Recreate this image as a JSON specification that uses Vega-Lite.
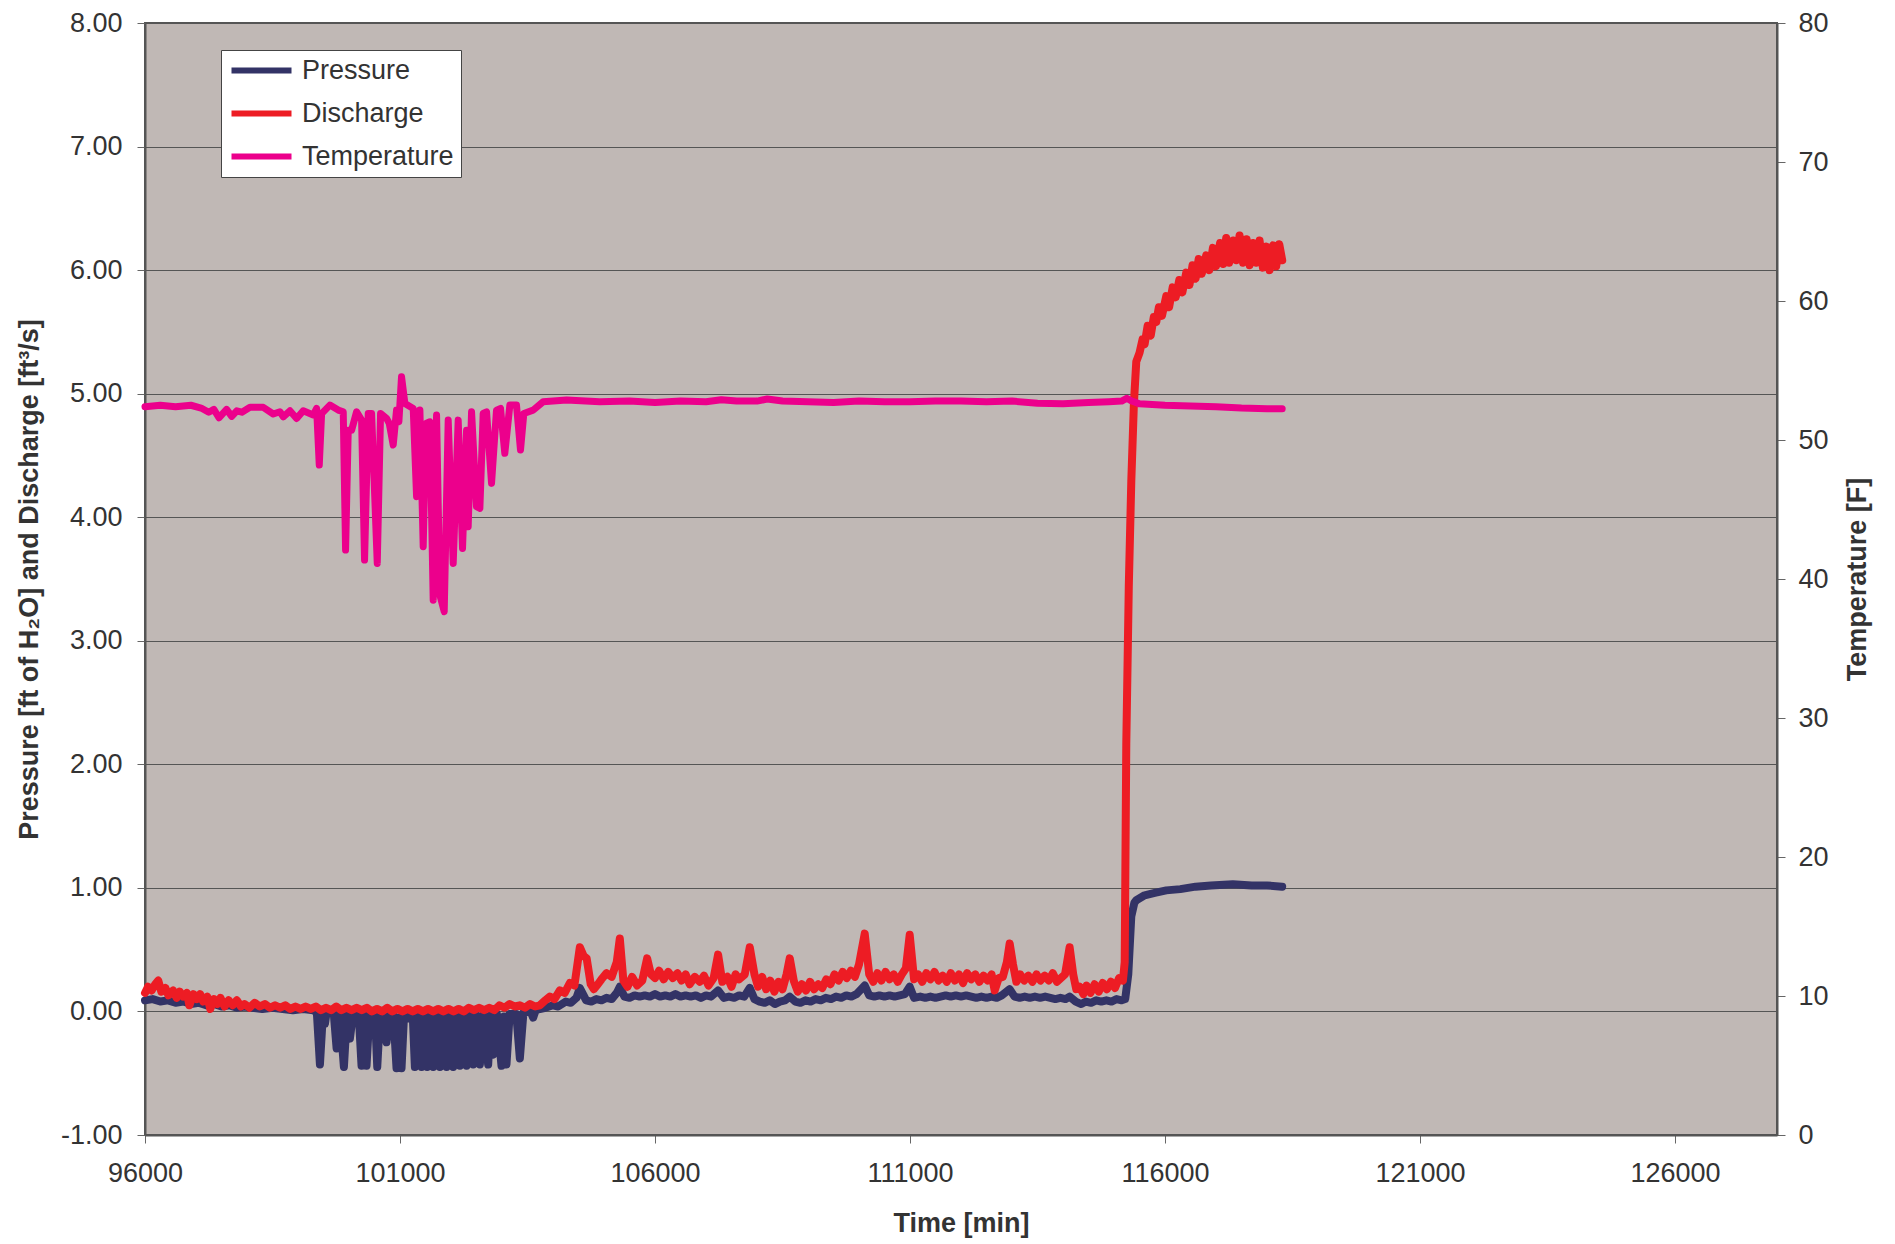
{
  "$schema": "https://vega.github.io/schema/vega-lite/v6.json",
  "width": 1632,
  "height": 1112,
  "autosize": "none",
  "padding": {"left": 145, "top": 23, "right": 118, "bottom": 109},
  "background": "white",
  "config": {
    "font": "Liberation Sans",
    "view": {"fill": "#C0B8B5", "stroke": "#555555", "strokeWidth": 2},
    "axis": {
      "labelFontSize": 27,
      "labelColor": "#333333",
      "titleFontSize": 27,
      "titleFontWeight": "bold",
      "titleColor": "#333333",
      "tickColor": "#666666",
      "tickSize": 8,
      "domainColor": "#555555",
      "domainWidth": 2,
      "labelFlush": false
    },
    "legend": {
      "orient": "none",
      "legendX": 76,
      "legendY": 27,
      "fillColor": "white",
      "strokeColor": "#444444",
      "padding": 7,
      "symbolType": "M-1,0H5",
      "symbolSize": 400,
      "symbolStrokeWidth": 6,
      "labelFontSize": 27,
      "labelColor": "#333333",
      "labelOffset": 47,
      "rowPadding": 15
    }
  },
  "datasets": {
    "pressure": [
      {"t": 96000, "v": 0.09}, {"t": 96150, "v": 0.10}, {"t": 96300, "v": 0.08}, {"t": 96450, "v": 0.09},
      {"t": 96600, "v": 0.07}, {"t": 96750, "v": 0.08}, {"t": 96900, "v": 0.06}, {"t": 97050, "v": 0.07},
      {"t": 97200, "v": 0.05}, {"t": 97350, "v": 0.06}, {"t": 97500, "v": 0.04}, {"t": 97650, "v": 0.05},
      {"t": 97800, "v": 0.03}, {"t": 97950, "v": 0.04}, {"t": 98100, "v": 0.03}, {"t": 98300, "v": 0.02},
      {"t": 98500, "v": 0.03}, {"t": 98700, "v": 0.02}, {"t": 98900, "v": 0.01}, {"t": 99100, "v": 0.02},
      {"t": 99300, "v": 0.01}, {"t": 99370, "v": -0.01}, {"t": 99430, "v": -0.43}, {"t": 99490, "v": -0.01},
      {"t": 99528, "v": -0.10}, {"t": 99560, "v": -0.01}, {"t": 99700, "v": -0.01}, {"t": 99757, "v": -0.30},
      {"t": 99820, "v": -0.02}, {"t": 99900, "v": -0.45}, {"t": 99960, "v": -0.02}, {"t": 100018, "v": -0.22},
      {"t": 100080, "v": -0.01}, {"t": 100190, "v": -0.02}, {"t": 100246, "v": -0.44}, {"t": 100295, "v": -0.03},
      {"t": 100344, "v": -0.44}, {"t": 100400, "v": -0.02}, {"t": 100475, "v": -0.16}, {"t": 100510, "v": -0.02},
      {"t": 100554, "v": -0.45}, {"t": 100610, "v": -0.02}, {"t": 100680, "v": -0.02}, {"t": 100736, "v": -0.25},
      {"t": 100800, "v": -0.02}, {"t": 100870, "v": -0.02}, {"t": 100932, "v": -0.46}, {"t": 100980, "v": -0.05},
      {"t": 101030, "v": -0.46}, {"t": 101080, "v": -0.02}, {"t": 101128, "v": -0.06}, {"t": 101200, "v": -0.02},
      {"t": 101250, "v": -0.03}, {"t": 101292, "v": -0.45}, {"t": 101350, "v": -0.03}, {"t": 101422, "v": -0.45},
      {"t": 101480, "v": -0.02}, {"t": 101533, "v": -0.45}, {"t": 101590, "v": -0.03}, {"t": 101651, "v": -0.45},
      {"t": 101715, "v": -0.02}, {"t": 101782, "v": -0.45}, {"t": 101850, "v": -0.02}, {"t": 101913, "v": -0.45},
      {"t": 101980, "v": -0.03}, {"t": 102043, "v": -0.45}, {"t": 102110, "v": -0.02}, {"t": 102174, "v": -0.44},
      {"t": 102240, "v": -0.03}, {"t": 102305, "v": -0.44}, {"t": 102370, "v": -0.02}, {"t": 102435, "v": -0.43},
      {"t": 102500, "v": -0.03}, {"t": 102566, "v": -0.43}, {"t": 102640, "v": -0.02}, {"t": 102729, "v": -0.43},
      {"t": 102780, "v": -0.03}, {"t": 102827, "v": -0.35}, {"t": 102900, "v": -0.02}, {"t": 102990, "v": -0.44},
      {"t": 103040, "v": -0.04}, {"t": 103088, "v": -0.43}, {"t": 103150, "v": -0.02}, {"t": 103280, "v": -0.02},
      {"t": 103350, "v": -0.38}, {"t": 103420, "v": -0.01}, {"t": 103560, "v": 0.00}, {"t": 103611, "v": -0.05},
      {"t": 103660, "v": 0.01}, {"t": 103742, "v": 0.02}, {"t": 103850, "v": 0.03}, {"t": 104000, "v": 0.05},
      {"t": 104100, "v": 0.04}, {"t": 104250, "v": 0.08}, {"t": 104350, "v": 0.07}, {"t": 104460, "v": 0.11},
      {"t": 104526, "v": 0.19}, {"t": 104600, "v": 0.13}, {"t": 104650, "v": 0.09}, {"t": 104750, "v": 0.08},
      {"t": 104850, "v": 0.10}, {"t": 104950, "v": 0.09}, {"t": 105050, "v": 0.11}, {"t": 105150, "v": 0.10},
      {"t": 105250, "v": 0.15}, {"t": 105310, "v": 0.20}, {"t": 105400, "v": 0.12}, {"t": 105500, "v": 0.11},
      {"t": 105600, "v": 0.13}, {"t": 105700, "v": 0.12}, {"t": 105800, "v": 0.13}, {"t": 105900, "v": 0.12},
      {"t": 106000, "v": 0.14}, {"t": 106100, "v": 0.12}, {"t": 106200, "v": 0.13}, {"t": 106300, "v": 0.12},
      {"t": 106400, "v": 0.14}, {"t": 106500, "v": 0.12}, {"t": 106600, "v": 0.13}, {"t": 106700, "v": 0.12},
      {"t": 106800, "v": 0.13}, {"t": 106900, "v": 0.11}, {"t": 107000, "v": 0.13}, {"t": 107100, "v": 0.12},
      {"t": 107237, "v": 0.17}, {"t": 107350, "v": 0.11}, {"t": 107450, "v": 0.12}, {"t": 107550, "v": 0.11},
      {"t": 107650, "v": 0.13}, {"t": 107750, "v": 0.12}, {"t": 107858, "v": 0.19}, {"t": 107950, "v": 0.10},
      {"t": 108050, "v": 0.08}, {"t": 108150, "v": 0.07}, {"t": 108250, "v": 0.09}, {"t": 108350, "v": 0.06},
      {"t": 108450, "v": 0.08}, {"t": 108550, "v": 0.09}, {"t": 108642, "v": 0.12}, {"t": 108750, "v": 0.08},
      {"t": 108850, "v": 0.07}, {"t": 108950, "v": 0.09}, {"t": 109050, "v": 0.08}, {"t": 109150, "v": 0.10},
      {"t": 109250, "v": 0.09}, {"t": 109350, "v": 0.11}, {"t": 109450, "v": 0.10}, {"t": 109550, "v": 0.12},
      {"t": 109650, "v": 0.11}, {"t": 109750, "v": 0.13}, {"t": 109850, "v": 0.12}, {"t": 109950, "v": 0.14},
      {"t": 110112, "v": 0.21}, {"t": 110200, "v": 0.13}, {"t": 110300, "v": 0.12}, {"t": 110400, "v": 0.13},
      {"t": 110500, "v": 0.12}, {"t": 110600, "v": 0.13}, {"t": 110700, "v": 0.12}, {"t": 110800, "v": 0.13},
      {"t": 110900, "v": 0.14}, {"t": 110994, "v": 0.20}, {"t": 111080, "v": 0.11}, {"t": 111200, "v": 0.12},
      {"t": 111300, "v": 0.11}, {"t": 111400, "v": 0.12}, {"t": 111500, "v": 0.11}, {"t": 111600, "v": 0.12},
      {"t": 111700, "v": 0.13}, {"t": 111800, "v": 0.12}, {"t": 111900, "v": 0.13}, {"t": 112000, "v": 0.12},
      {"t": 112100, "v": 0.13}, {"t": 112200, "v": 0.12}, {"t": 112300, "v": 0.11}, {"t": 112400, "v": 0.12},
      {"t": 112500, "v": 0.11}, {"t": 112600, "v": 0.12}, {"t": 112700, "v": 0.11}, {"t": 112800, "v": 0.13},
      {"t": 112954, "v": 0.18}, {"t": 113050, "v": 0.12}, {"t": 113150, "v": 0.11}, {"t": 113250, "v": 0.12},
      {"t": 113350, "v": 0.11}, {"t": 113450, "v": 0.12}, {"t": 113550, "v": 0.11}, {"t": 113650, "v": 0.12},
      {"t": 113750, "v": 0.11}, {"t": 113850, "v": 0.10}, {"t": 113950, "v": 0.11}, {"t": 114050, "v": 0.10},
      {"t": 114130, "v": 0.12}, {"t": 114250, "v": 0.08}, {"t": 114358, "v": 0.06}, {"t": 114450, "v": 0.08},
      {"t": 114550, "v": 0.07}, {"t": 114650, "v": 0.09}, {"t": 114750, "v": 0.08}, {"t": 114850, "v": 0.09},
      {"t": 114950, "v": 0.08}, {"t": 115050, "v": 0.10}, {"t": 115150, "v": 0.09}, {"t": 115220, "v": 0.10},
      {"t": 115280, "v": 0.30}, {"t": 115339, "v": 0.77}, {"t": 115400, "v": 0.88}, {"t": 115437, "v": 0.90},
      {"t": 115600, "v": 0.94}, {"t": 115800, "v": 0.96}, {"t": 116025, "v": 0.98}, {"t": 116300, "v": 0.99},
      {"t": 116600, "v": 1.01}, {"t": 116900, "v": 1.02}, {"t": 117331, "v": 1.03}, {"t": 117700, "v": 1.02},
      {"t": 118000, "v": 1.02}, {"t": 118298, "v": 1.01}
    ],
    "discharge": [
      {"t": 96000, "v": 0.15}, {"t": 96060, "v": 0.20}, {"t": 96130, "v": 0.17}, {"t": 96200, "v": 0.22},
      {"t": 96260, "v": 0.25}, {"t": 96320, "v": 0.16}, {"t": 96400, "v": 0.19}, {"t": 96460, "v": 0.13},
      {"t": 96550, "v": 0.17}, {"t": 96620, "v": 0.11}, {"t": 96680, "v": 0.16}, {"t": 96750, "v": 0.12},
      {"t": 96820, "v": 0.15}, {"t": 96870, "v": 0.05}, {"t": 96950, "v": 0.14}, {"t": 97020, "v": 0.10},
      {"t": 97080, "v": 0.14}, {"t": 97140, "v": 0.08}, {"t": 97220, "v": 0.12}, {"t": 97280, "v": 0.02},
      {"t": 97350, "v": 0.10}, {"t": 97420, "v": 0.06}, {"t": 97480, "v": 0.11}, {"t": 97560, "v": 0.04},
      {"t": 97640, "v": 0.09}, {"t": 97720, "v": 0.05}, {"t": 97800, "v": 0.09}, {"t": 97880, "v": 0.04},
      {"t": 97950, "v": 0.06}, {"t": 98050, "v": 0.03}, {"t": 98150, "v": 0.07}, {"t": 98250, "v": 0.04},
      {"t": 98350, "v": 0.06}, {"t": 98450, "v": 0.03}, {"t": 98550, "v": 0.05}, {"t": 98650, "v": 0.03},
      {"t": 98750, "v": 0.05}, {"t": 98850, "v": 0.02}, {"t": 98950, "v": 0.04}, {"t": 99050, "v": 0.02},
      {"t": 99150, "v": 0.04}, {"t": 99250, "v": 0.02}, {"t": 99350, "v": 0.04}, {"t": 99450, "v": 0.01},
      {"t": 99550, "v": 0.03}, {"t": 99650, "v": 0.01}, {"t": 99750, "v": 0.04}, {"t": 99850, "v": 0.01},
      {"t": 99950, "v": 0.03}, {"t": 100050, "v": 0.01}, {"t": 100150, "v": 0.03}, {"t": 100250, "v": 0.01},
      {"t": 100350, "v": 0.03}, {"t": 100450, "v": 0.00}, {"t": 100550, "v": 0.02}, {"t": 100650, "v": 0.00},
      {"t": 100750, "v": 0.03}, {"t": 100850, "v": 0.00}, {"t": 100950, "v": 0.02}, {"t": 101050, "v": 0.00},
      {"t": 101150, "v": 0.02}, {"t": 101250, "v": 0.00}, {"t": 101350, "v": 0.02}, {"t": 101450, "v": 0.00},
      {"t": 101550, "v": 0.02}, {"t": 101650, "v": 0.00}, {"t": 101750, "v": 0.02}, {"t": 101850, "v": 0.00},
      {"t": 101950, "v": 0.02}, {"t": 102050, "v": 0.00}, {"t": 102150, "v": 0.02}, {"t": 102250, "v": 0.00},
      {"t": 102350, "v": 0.03}, {"t": 102450, "v": 0.01}, {"t": 102550, "v": 0.03}, {"t": 102650, "v": 0.01},
      {"t": 102750, "v": 0.03}, {"t": 102850, "v": 0.01}, {"t": 102950, "v": 0.05}, {"t": 103050, "v": 0.03},
      {"t": 103150, "v": 0.06}, {"t": 103250, "v": 0.04}, {"t": 103350, "v": 0.05}, {"t": 103450, "v": 0.03},
      {"t": 103550, "v": 0.06}, {"t": 103650, "v": 0.04}, {"t": 103742, "v": 0.05}, {"t": 103850, "v": 0.09},
      {"t": 103938, "v": 0.12}, {"t": 104030, "v": 0.10}, {"t": 104134, "v": 0.17}, {"t": 104230, "v": 0.15},
      {"t": 104330, "v": 0.23}, {"t": 104420, "v": 0.21}, {"t": 104526, "v": 0.52}, {"t": 104600, "v": 0.45},
      {"t": 104660, "v": 0.43}, {"t": 104740, "v": 0.22}, {"t": 104800, "v": 0.18}, {"t": 104880, "v": 0.22},
      {"t": 104950, "v": 0.26}, {"t": 105050, "v": 0.31}, {"t": 105150, "v": 0.28}, {"t": 105250, "v": 0.40},
      {"t": 105310, "v": 0.59}, {"t": 105380, "v": 0.25}, {"t": 105460, "v": 0.20}, {"t": 105550, "v": 0.28},
      {"t": 105650, "v": 0.21}, {"t": 105750, "v": 0.25}, {"t": 105846, "v": 0.43}, {"t": 105920, "v": 0.30},
      {"t": 106000, "v": 0.27}, {"t": 106080, "v": 0.33}, {"t": 106170, "v": 0.26}, {"t": 106260, "v": 0.32},
      {"t": 106350, "v": 0.27}, {"t": 106440, "v": 0.31}, {"t": 106520, "v": 0.25}, {"t": 106600, "v": 0.30},
      {"t": 106680, "v": 0.22}, {"t": 106780, "v": 0.28}, {"t": 106880, "v": 0.24}, {"t": 106960, "v": 0.29},
      {"t": 107050, "v": 0.21}, {"t": 107150, "v": 0.27}, {"t": 107237, "v": 0.46}, {"t": 107320, "v": 0.24},
      {"t": 107420, "v": 0.28}, {"t": 107500, "v": 0.20}, {"t": 107580, "v": 0.30}, {"t": 107650, "v": 0.26},
      {"t": 107760, "v": 0.30}, {"t": 107858, "v": 0.52}, {"t": 107950, "v": 0.30}, {"t": 108020, "v": 0.20},
      {"t": 108100, "v": 0.28}, {"t": 108180, "v": 0.18}, {"t": 108260, "v": 0.25}, {"t": 108340, "v": 0.16},
      {"t": 108420, "v": 0.24}, {"t": 108500, "v": 0.18}, {"t": 108580, "v": 0.30}, {"t": 108642, "v": 0.43},
      {"t": 108720, "v": 0.25}, {"t": 108800, "v": 0.16}, {"t": 108880, "v": 0.22}, {"t": 108960, "v": 0.17},
      {"t": 109040, "v": 0.24}, {"t": 109120, "v": 0.18}, {"t": 109200, "v": 0.22}, {"t": 109280, "v": 0.19},
      {"t": 109360, "v": 0.26}, {"t": 109440, "v": 0.22}, {"t": 109520, "v": 0.30}, {"t": 109600, "v": 0.25},
      {"t": 109680, "v": 0.32}, {"t": 109760, "v": 0.27}, {"t": 109840, "v": 0.33}, {"t": 109920, "v": 0.28},
      {"t": 110000, "v": 0.38}, {"t": 110112, "v": 0.63}, {"t": 110200, "v": 0.30}, {"t": 110280, "v": 0.24},
      {"t": 110360, "v": 0.31}, {"t": 110440, "v": 0.25}, {"t": 110520, "v": 0.32}, {"t": 110600, "v": 0.26},
      {"t": 110680, "v": 0.30}, {"t": 110760, "v": 0.24}, {"t": 110840, "v": 0.30}, {"t": 110920, "v": 0.35},
      {"t": 110994, "v": 0.62}, {"t": 111080, "v": 0.26}, {"t": 111160, "v": 0.30}, {"t": 111240, "v": 0.24},
      {"t": 111320, "v": 0.31}, {"t": 111400, "v": 0.26}, {"t": 111480, "v": 0.32}, {"t": 111560, "v": 0.25},
      {"t": 111640, "v": 0.29}, {"t": 111720, "v": 0.24}, {"t": 111800, "v": 0.31}, {"t": 111880, "v": 0.25},
      {"t": 111960, "v": 0.30}, {"t": 112040, "v": 0.23}, {"t": 112120, "v": 0.31}, {"t": 112200, "v": 0.26},
      {"t": 112280, "v": 0.30}, {"t": 112360, "v": 0.24}, {"t": 112440, "v": 0.29}, {"t": 112520, "v": 0.25},
      {"t": 112600, "v": 0.30}, {"t": 112660, "v": 0.17}, {"t": 112740, "v": 0.27}, {"t": 112820, "v": 0.28},
      {"t": 112900, "v": 0.40}, {"t": 112954, "v": 0.55}, {"t": 113020, "v": 0.38}, {"t": 113085, "v": 0.24},
      {"t": 113160, "v": 0.30}, {"t": 113240, "v": 0.25}, {"t": 113320, "v": 0.29}, {"t": 113400, "v": 0.24},
      {"t": 113480, "v": 0.30}, {"t": 113560, "v": 0.25}, {"t": 113640, "v": 0.29}, {"t": 113720, "v": 0.25},
      {"t": 113800, "v": 0.31}, {"t": 113880, "v": 0.24}, {"t": 113960, "v": 0.27}, {"t": 114040, "v": 0.30},
      {"t": 114130, "v": 0.52}, {"t": 114200, "v": 0.30}, {"t": 114260, "v": 0.18}, {"t": 114326, "v": 0.20},
      {"t": 114400, "v": 0.14}, {"t": 114460, "v": 0.21}, {"t": 114540, "v": 0.15}, {"t": 114620, "v": 0.22},
      {"t": 114700, "v": 0.16}, {"t": 114780, "v": 0.23}, {"t": 114860, "v": 0.18}, {"t": 114940, "v": 0.24},
      {"t": 115020, "v": 0.19}, {"t": 115100, "v": 0.27}, {"t": 115175, "v": 0.25}, {"t": 115210, "v": 0.40},
      {"t": 115241, "v": 2.17}, {"t": 115290, "v": 3.44}, {"t": 115339, "v": 4.29}, {"t": 115390, "v": 4.92},
      {"t": 115437, "v": 5.26}, {"t": 115500, "v": 5.33}, {"t": 115560, "v": 5.44}, {"t": 115600, "v": 5.40},
      {"t": 115660, "v": 5.55}, {"t": 115720, "v": 5.47}, {"t": 115780, "v": 5.62}, {"t": 115829, "v": 5.58},
      {"t": 115880, "v": 5.70}, {"t": 115940, "v": 5.63}, {"t": 116025, "v": 5.79}, {"t": 116080, "v": 5.70},
      {"t": 116150, "v": 5.86}, {"t": 116210, "v": 5.78}, {"t": 116280, "v": 5.92}, {"t": 116340, "v": 5.82},
      {"t": 116417, "v": 5.98}, {"t": 116480, "v": 5.88}, {"t": 116540, "v": 6.04}, {"t": 116600, "v": 5.93},
      {"t": 116660, "v": 6.09}, {"t": 116720, "v": 5.97}, {"t": 116809, "v": 6.12}, {"t": 116870, "v": 6.00},
      {"t": 116940, "v": 6.18}, {"t": 117000, "v": 6.03}, {"t": 117080, "v": 6.22}, {"t": 117140, "v": 6.05},
      {"t": 117200, "v": 6.26}, {"t": 117260, "v": 6.06}, {"t": 117340, "v": 6.24}, {"t": 117400, "v": 6.08},
      {"t": 117462, "v": 6.28}, {"t": 117530, "v": 6.06}, {"t": 117600, "v": 6.25}, {"t": 117660, "v": 6.04},
      {"t": 117730, "v": 6.22}, {"t": 117790, "v": 6.06}, {"t": 117854, "v": 6.24}, {"t": 117920, "v": 6.02},
      {"t": 117990, "v": 6.19}, {"t": 118050, "v": 6.00}, {"t": 118120, "v": 6.20}, {"t": 118180, "v": 6.03},
      {"t": 118240, "v": 6.21}, {"t": 118298, "v": 6.08}
    ],
    "temperature": [
      {"t": 96000, "v": 52.4}, {"t": 96300, "v": 52.5}, {"t": 96600, "v": 52.4}, {"t": 96900, "v": 52.5},
      {"t": 97100, "v": 52.3}, {"t": 97250, "v": 52.0}, {"t": 97350, "v": 52.2}, {"t": 97450, "v": 51.6},
      {"t": 97600, "v": 52.2}, {"t": 97700, "v": 51.7}, {"t": 97800, "v": 52.1}, {"t": 97900, "v": 52.0},
      {"t": 98058, "v": 52.35}, {"t": 98319, "v": 52.35}, {"t": 98515, "v": 51.87}, {"t": 98646, "v": 52.03},
      {"t": 98711, "v": 51.67}, {"t": 98842, "v": 52.1}, {"t": 98973, "v": 51.55}, {"t": 99103, "v": 52.1},
      {"t": 99299, "v": 51.8}, {"t": 99365, "v": 52.27}, {"t": 99417, "v": 48.2}, {"t": 99463, "v": 51.9},
      {"t": 99626, "v": 52.51}, {"t": 99789, "v": 52.15}, {"t": 99887, "v": 52.03}, {"t": 99933, "v": 42.08},
      {"t": 99985, "v": 50.7}, {"t": 100051, "v": 50.7}, {"t": 100149, "v": 52.03}, {"t": 100247, "v": 51.43},
      {"t": 100305, "v": 41.36}, {"t": 100377, "v": 51.91}, {"t": 100443, "v": 51.91}, {"t": 100554, "v": 41.12},
      {"t": 100619, "v": 51.91}, {"t": 100737, "v": 51.55}, {"t": 100789, "v": 51.19}, {"t": 100867, "v": 49.64},
      {"t": 100932, "v": 52.15}, {"t": 100978, "v": 51.31}, {"t": 101030, "v": 54.55}, {"t": 101096, "v": 52.63},
      {"t": 101259, "v": 52.27}, {"t": 101325, "v": 45.92}, {"t": 101390, "v": 52.15}, {"t": 101455, "v": 42.32},
      {"t": 101507, "v": 51.19}, {"t": 101586, "v": 51.31}, {"t": 101651, "v": 38.48}, {"t": 101717, "v": 51.79},
      {"t": 101782, "v": 38.84}, {"t": 101867, "v": 37.65}, {"t": 101945, "v": 51.43}, {"t": 102043, "v": 41.12},
      {"t": 102141, "v": 51.43}, {"t": 102226, "v": 42.2}, {"t": 102305, "v": 50.7}, {"t": 102337, "v": 43.76},
      {"t": 102403, "v": 52.03}, {"t": 102500, "v": 45.2}, {"t": 102566, "v": 45.08}, {"t": 102631, "v": 51.91},
      {"t": 102697, "v": 52.03}, {"t": 102795, "v": 46.88}, {"t": 102892, "v": 52.15}, {"t": 102971, "v": 52.27},
      {"t": 103055, "v": 49.04}, {"t": 103154, "v": 52.51}, {"t": 103284, "v": 52.51}, {"t": 103363, "v": 49.28},
      {"t": 103428, "v": 51.91}, {"t": 103611, "v": 52.15}, {"t": 103807, "v": 52.75}, {"t": 104265, "v": 52.87},
      {"t": 104918, "v": 52.75}, {"t": 105500, "v": 52.8}, {"t": 106000, "v": 52.7}, {"t": 106500, "v": 52.8},
      {"t": 107000, "v": 52.75}, {"t": 107300, "v": 52.9}, {"t": 107600, "v": 52.8}, {"t": 108000, "v": 52.8},
      {"t": 108200, "v": 52.95}, {"t": 108500, "v": 52.8}, {"t": 109000, "v": 52.75}, {"t": 109500, "v": 52.7},
      {"t": 110000, "v": 52.8}, {"t": 110500, "v": 52.75}, {"t": 111000, "v": 52.75}, {"t": 111500, "v": 52.8},
      {"t": 112000, "v": 52.8}, {"t": 112500, "v": 52.75}, {"t": 113000, "v": 52.8}, {"t": 113500, "v": 52.65},
      {"t": 114000, "v": 52.6}, {"t": 114500, "v": 52.7}, {"t": 114900, "v": 52.75}, {"t": 115150, "v": 52.8},
      {"t": 115250, "v": 53.0}, {"t": 115350, "v": 52.8}, {"t": 115500, "v": 52.6}, {"t": 116000, "v": 52.5},
      {"t": 116500, "v": 52.45}, {"t": 117000, "v": 52.4}, {"t": 117500, "v": 52.3}, {"t": 118000, "v": 52.25},
      {"t": 118298, "v": 52.25}
    ]
  },
  "layer": [
    {
      "encoding": {
        "x": {
          "field": "t",
          "type": "quantitative",
          "scale": {"domain": [96000, 128000], "nice": false, "zero": false},
          "axis": {
            "values": [96000, 101000, 106000, 111000, 116000, 121000, 126000],
            "format": "d",
            "grid": false,
            "labelPadding": 17,
            "title": "Time [min]",
            "titleY": 88,
            "titleBaseline": "middle"
          }
        },
        "y": {
          "field": "v",
          "type": "quantitative",
          "scale": {"domain": [-1, 8], "nice": false},
          "axis": {
            "values": [-1, 0, 1, 2, 3, 4, 5, 6, 7, 8],
            "labelExpr": "replace(format(datum.value, '.2f'), '−', '-')",
            "grid": true,
            "gridColor": "#555555",
            "gridWidth": 1.2,
            "labelPadding": 15,
            "title": "Pressure [ft of H₂O] and Discharge [ft³/s]",
            "titleX": -116,
            "titleY": 556,
            "titleAngle": 270,
            "titleBaseline": "middle"
          }
        }
      },
      "layer": [
        {
          "data": {"name": "pressure"},
          "mark": {"type": "line", "strokeWidth": 8, "strokeCap": "round", "strokeJoin": "round"},
          "encoding": {
            "color": {
              "datum": "Pressure",
              "type": "nominal",
              "scale": {"domain": ["Pressure", "Discharge", "Temperature"], "range": ["#333366", "#ED1C24", "#EC008C"]},
              "legend": {"title": null}
            }
          }
        },
        {
          "data": {"name": "discharge"},
          "mark": {"type": "line", "strokeWidth": 8, "strokeCap": "round", "strokeJoin": "round"},
          "encoding": {
            "color": {
              "datum": "Discharge",
              "type": "nominal",
              "scale": {"domain": ["Pressure", "Discharge", "Temperature"], "range": ["#333366", "#ED1C24", "#EC008C"]},
              "legend": {"title": null}
            }
          }
        }
      ]
    },
    {
      "data": {"name": "temperature"},
      "mark": {"type": "line", "strokeWidth": 7, "strokeCap": "round", "strokeJoin": "round"},
      "encoding": {
        "x": {
          "field": "t",
          "type": "quantitative",
          "scale": {"domain": [96000, 128000], "nice": false, "zero": false},
          "axis": {
            "values": [96000, 101000, 106000, 111000, 116000, 121000, 126000],
            "format": "d",
            "grid": false,
            "labelPadding": 17,
            "title": "Time [min]",
            "titleY": 88,
            "titleBaseline": "middle"
          }
        },
        "y": {
          "field": "v",
          "type": "quantitative",
          "scale": {"domain": [0, 80], "nice": false},
          "axis": {
            "orient": "right",
            "values": [0, 10, 20, 30, 40, 50, 60, 70, 80],
            "format": "d",
            "grid": false,
            "labelPadding": 13,
            "title": "Temperature [F]",
            "titleX": 80,
            "titleY": 556,
            "titleAngle": 270,
            "titleBaseline": "middle"
          }
        },
        "color": {
          "datum": "Temperature",
          "type": "nominal",
          "scale": {"domain": ["Pressure", "Discharge", "Temperature"], "range": ["#333366", "#ED1C24", "#EC008C"]},
          "legend": {"title": null}
        }
      }
    }
  ],
  "resolve": {"scale": {"y": "independent"}}
}
